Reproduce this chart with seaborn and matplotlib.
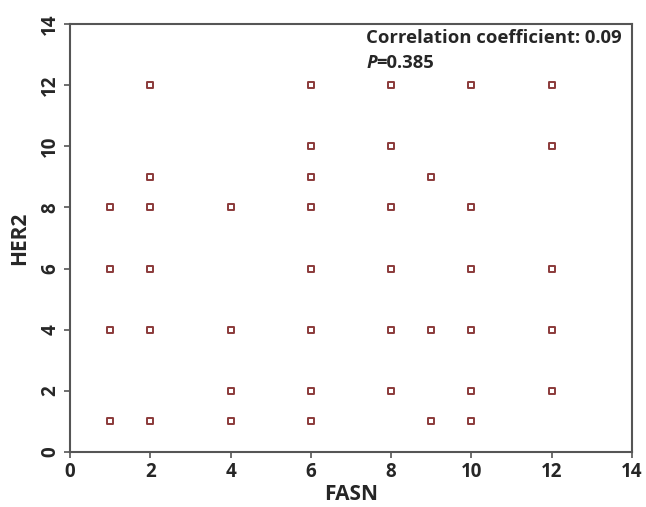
import matplotlib
matplotlib.use("Agg")
import matplotlib.pyplot as plt
import seaborn as sns
import pandas as pd

fasn = [1, 1, 1, 1,
        2, 2, 2, 2, 2, 2,
        4, 4, 4, 4,
        6, 6, 6, 6, 6, 6, 6, 6,
        8, 8, 8, 8, 8, 8,
        9, 9, 9,
        10, 10, 10, 10, 10, 10,
        12, 12, 12, 12, 12]
her2 = [8, 6, 4, 1,
        12, 9, 8, 6, 4, 1,
        8, 4, 2, 1,
        12, 10, 9, 8, 6, 4, 2, 1,
        12, 10, 8, 6, 4, 2,
        9, 4, 1,
        12, 8, 6, 4, 2, 1,
        12, 10, 6, 4, 2]
ticks = [0, 2, 4, 6, 8, 10, 12, 14]

df = pd.DataFrame({"FASN": fasn, "HER2": her2})

sns.set_theme(style="white")
plt.rcParams['font.family'] = ['Open Sans', 'DejaVu Sans']

fig = plt.figure(figsize=(6.46, 5.07), dpi=100)
ax = fig.add_axes([0.1084, 0.1085, 0.8696, 0.8442])

sns.scatterplot(data=df, x="FASN", y="HER2", ax=ax, marker="s", s=22,
                facecolor="white", edgecolor="#8b3a3a", linewidth=1.4)

ax.set_xlim(0, 14)
ax.set_ylim(0, 14)
ax.set_xticks(ticks)
ax.set_yticks(ticks)
ax.set_xticklabels([str(t) for t in ticks], fontsize=13.5, fontweight="bold")
ax.set_yticklabels([str(t) for t in ticks], fontsize=13.5, fontweight="bold",
                   rotation=90, va="center")
ax.tick_params(axis="both", direction="out", length=4, width=1.2, color="#555555",
               bottom=True, left=True, pad=3)
ax.set_xlabel("FASN", fontsize=15, fontweight="bold", labelpad=2)
ax.set_ylabel("HER2", fontsize=15, fontweight="bold", labelpad=7)
for sp in ax.spines.values():
    sp.set_color("#555555")
    sp.set_linewidth(1.5)

ax.text(0.527, 0.988, "Correlation coefficient: 0.09", transform=ax.transAxes,
        fontsize=13.3, fontweight="bold", ha="left", va="top")
ax.text(0.527, 0.930, "P", transform=ax.transAxes, fontsize=13.3,
        fontweight="bold", fontstyle="italic", ha="left", va="top")
ax.text(0.546, 0.930, "=0.385", transform=ax.transAxes,
        fontsize=13.3, fontweight="bold", ha="left", va="top")

fig.savefig("out.png", dpi=100)
